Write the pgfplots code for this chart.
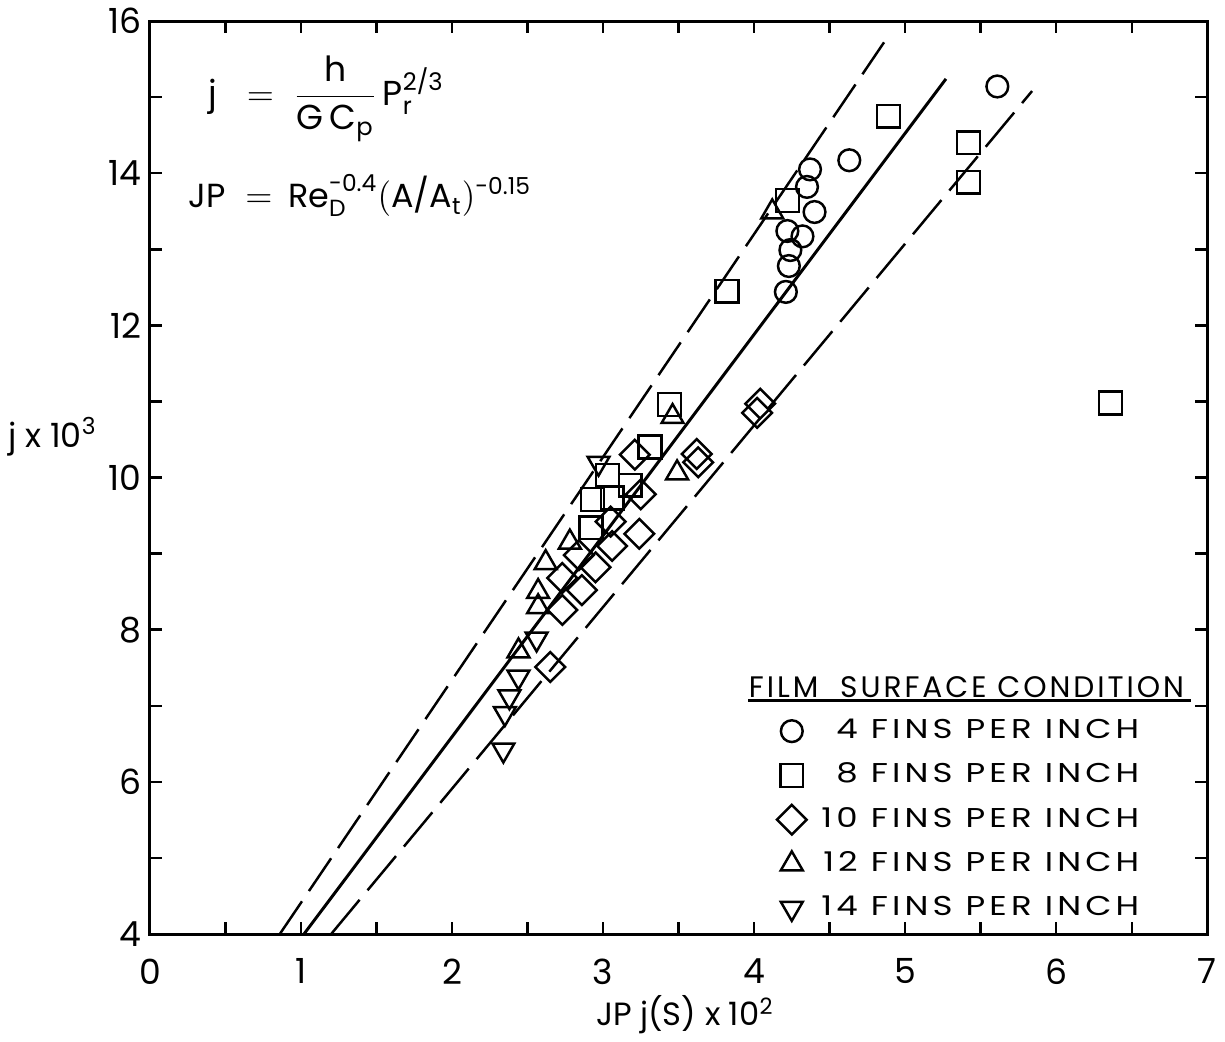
\documentclass[border=0pt]{standalone}
\usepackage{pgfplots}
\pgfplotsset{compat=1.18}
\usepackage{amsmath}
\usepackage{fontspec}
\setmainfont{Poppins}
\newfontfamily\legfont{Poppins}[FakeStretch=1.25, LetterSpace=15]
\newfontfamily\titlefont{Poppins}[LetterSpace=10]

\pgfplotstableread{
x y
5.61 15.14
4.63 14.17
4.37 14.05
4.35 13.82
4.40 13.49
4.22 13.24
4.32 13.17
4.24 12.99
4.23 12.78
4.21 12.44
}\fourfins

\pgfplotstableread{
x y
4.89 14.75
5.42 14.40
5.42 13.88
4.22 13.64
3.82 12.45
6.36 10.98
3.44 10.96
3.31 10.40
3.03 10.03
3.18 9.90
3.06 9.73
2.93 9.71
2.92 9.34
}\eightfins

\pgfplotstableread{
x y
4.04 10.97
4.02 10.85
3.62 10.31
3.63 10.20
3.21 10.30
3.25 9.78
3.24 9.26
3.05 9.42
3.06 9.10
2.95 8.82
2.84 8.98
2.73 8.68
2.86 8.52
2.73 8.26
2.65 7.51
}\tenfins

\pgfplotstableread{
x y
4.12 13.49
3.46 10.80
3.49 10.06
2.78 9.15
2.62 8.88
2.57 8.50
2.57 8.30
2.44 7.72
}\twelvefins

\pgfplotstableread{
x y
2.97 10.19
2.56 7.88
2.44 7.38
2.38 7.12
2.35 6.90
2.34 6.42
}\fourteenfins

\begin{document}
\begin{tikzpicture}
\begin{axis}[
  scale only axis, width=427.6pt, height=369.2pt,
  xmin=0, xmax=7, ymin=4, ymax=16,
  xtick={0,...,7}, ytick={4,6,...,16},
  minor x tick num=1, minor y tick num=1,
  xtick pos=both, ytick pos=both,
  tick align=inside, major tick length=5pt, minor tick length=5pt,
  every tick/.style={line width=1pt, black},
  axis line style={line width=1.2pt},
  tick label style={font=\fontsize{14}{14}\selectfont},
  xticklabel style={yshift=-6.5pt},
  /pgf/number format/assume math mode=true,
  xlabel={JP j(S) x 10\textsuperscript{2}},
  xlabel style={at={(axis description cs:0.506,-0.088)}, anchor=center, font=\fontsize{13}{13}\selectfont},
  ylabel={j x 10\textsuperscript{3}},
  ylabel style={rotate=-90, at={(axis description cs:-0.092,0.545)}, anchor=center, font=\fontsize{13.5}{13.5}\selectfont},
  legend cell align=right,
  legend style={at={(axis description cs:0.936,0.247)}, anchor=north east, draw=none, fill=none,
    inner sep=0pt, row sep=0pt, column sep=6pt,
    nodes={inner sep=0pt, text height=12pt, text depth=5.9pt, font=\legfont\fontsize{11}{12}\selectfont}},
]
% fitted lines
\addplot[forget plot, line width=1.2pt] coordinates {(1.02,4) (5.27,15.24)};
\addplot[forget plot, line width=1pt, dash pattern=on 16pt off 5pt] coordinates {(0.86,4) (4.86,15.72)};
\addplot[forget plot, line width=1pt, dash pattern=on 18pt off 5pt] coordinates {(1.20,4) (5.84,15.08)};

% data
\addplot[forget plot, only marks, mark=triangle, mark size=5.1pt, mark options={rotate=180, fill=white, line width=1pt}] table {\fourteenfins};
\addplot[forget plot, only marks, mark=triangle, mark size=5.1pt, mark options={fill=white, line width=1pt}] table {\twelvefins};
\addplot[forget plot, only marks, mark=square, mark size=4.24pt, mark options={rotate=45, fill=white, line width=1pt}] table {\tenfins};
\addplot[forget plot, only marks, mark=square, mark size=4.6pt, mark options={fill=white, line width=1pt}] table {\eightfins};
\addplot[forget plot, only marks, mark=o, mark size=4.4pt, mark options={fill=white, line width=1pt}] table {\fourfins};

% legend
\addlegendimage{only marks, mark=o, mark size=4.4pt, mark options={line width=1pt}}
\addlegendentry{4 FINS PER INCH}
\addlegendimage{only marks, mark=square, mark size=4.6pt, mark options={line width=1pt}}
\addlegendentry{8 FINS PER INCH}
\addlegendimage{only marks, mark=square, mark size=4.24pt, mark options={rotate=45, line width=1pt}}
\addlegendentry{10 FINS PER INCH}
\addlegendimage{only marks, mark=triangle, mark size=5.1pt, mark options={line width=1pt}}
\addlegendentry{12 FINS PER INCH}
\addlegendimage{only marks, mark=triangle, mark size=5.1pt, mark options={rotate=180, line width=1pt}}
\addlegendentry{14 FINS PER INCH}

\node[anchor=west, inner sep=0pt, font=\titlefont\fontsize{12}{12}\selectfont] at (axis description cs:0.566,0.270) {FILM\ \ SURFACE CONDITION};
\draw[line width=1.2pt] (axis description cs:0.566,0.256) -- (axis description cs:0.985,0.256);

\node[anchor=west, inner sep=0pt, font=\fontsize{14}{14}\selectfont] at (axis description cs:0.055,0.915)
  {$\text{j}\;\;=\;\dfrac{\text{h}}{\text{G}\,\text{C}_{\text{p}}}\,\text{P}_{\text{r}}^{\text{2/3}}$};
\node[anchor=west, inner sep=0pt, font=\fontsize{13.5}{13.5}\selectfont] at (axis description cs:0.036,0.809)
  {$\text{JP}\;=\,\text{Re}_{\text{D}}^{\text{-0.4}}(\text{A/A}_{\text{t}})^{\text{-0.15}}$};
\end{axis}
\path[use as bounding box] (-59.6pt,-39.6pt) rectangle (430.4pt,377.2pt);
\end{tikzpicture}
\end{document}
